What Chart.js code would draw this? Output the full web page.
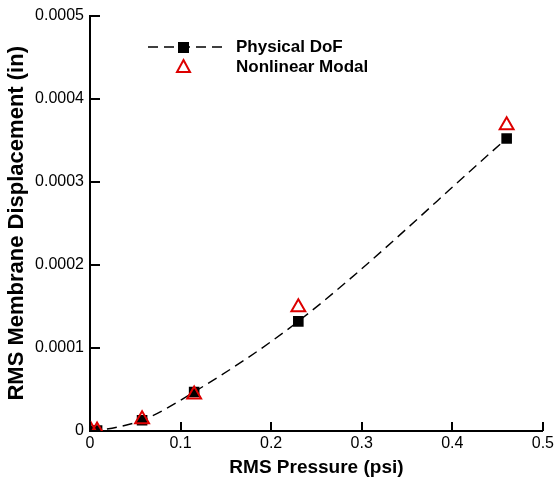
<!DOCTYPE html>
<html>
<head>
<meta charset="utf-8">
<script src="https://cdn.jsdelivr.net/npm/chart.js@4/dist/chart.umd.min.js"></script>
<style>
  html, body { margin: 0; padding: 0; background: #fff; }
  #wrap { width: 557px; height: 481px; }
</style>
</head>
<body>
<div id="wrap"><canvas id="myChart" width="557" height="481"></canvas></div>
<script>
// values
const pressure = [0.0012, 0.0078, 0.0575, 0.115, 0.23, 0.46];
const physicalDof = [0.0000002, 0.0000006, 0.000013, 0.000047, 0.000132, 0.000352];
const nonlinearModal = [0.0000002, 0.0000006, 0.000014, 0.000044, 0.000149, 0.000368];
const xTicks = [0, 0.1, 0.2, 0.3, 0.4, 0.5];
const yTicks = [0, 0.0001, 0.0002, 0.0003, 0.0004, 0.0005];

const fontFamily = 'Liberation Sans, Arial, Helvetica, sans-serif';
const modalRed = '#dd0000';

// inward tick marks (the plot only has ticks pointing into the data area)
const inwardTicks = {
    id: 'inwardTicks',
    afterDraw: (chart) => {
        const ctx = chart.ctx;
        const xAxis = chart.scales.x;
        const yAxis = chart.scales.y;
        ctx.save();
        ctx.strokeStyle = '#000';
        ctx.lineWidth = 2;
        xTicks.forEach(v => {
            const px = Math.round(xAxis.getPixelForValue(v));
            ctx.beginPath();
            ctx.moveTo(px, yAxis.bottom);
            ctx.lineTo(px, yAxis.bottom - 9);
            ctx.stroke();
        });
        yTicks.forEach(v => {
            const py = Math.round(yAxis.getPixelForValue(v));
            ctx.beginPath();
            ctx.moveTo(xAxis.left, py);
            ctx.lineTo(xAxis.left + 10, py);
            ctx.stroke();
        });
        ctx.restore();
    }
};

// legend sitting inside the plot, top left
const plotLegend = {
    id: 'plotLegend',
    afterDraw: (chart) => {
        const ctx = chart.ctx;
        ctx.save();
        // dashed line + square
        ctx.strokeStyle = '#000';
        ctx.lineWidth = 1.5;
        ctx.setLineDash([10, 6]);
        ctx.beginPath();
        ctx.moveTo(148, 47);
        ctx.lineTo(222, 47);
        ctx.stroke();
        ctx.setLineDash([]);
        ctx.fillStyle = '#000';
        ctx.fillRect(178, 42, 11, 11);
        // triangle
        ctx.strokeStyle = modalRed;
        ctx.lineWidth = 2;
        ctx.beginPath();
        ctx.moveTo(183.5, 60);
        ctx.lineTo(190, 72);
        ctx.lineTo(177, 72);
        ctx.closePath();
        ctx.stroke();
        // labels
        ctx.fillStyle = '#000';
        ctx.font = 'bold 17px ' + fontFamily;
        ctx.textBaseline = 'middle';
        ctx.textAlign = 'left';
        ctx.fillText('Physical DoF', 236, 47);
        ctx.fillText('Nonlinear Modal', 236, 67);
        ctx.restore();
    }
};

const ctx = document.getElementById('myChart').getContext('2d');
new Chart(ctx, {
    type: 'scatter',
    data: {
        datasets: [
            {
                label: 'Nonlinear Modal',
                data: pressure.map((p, i) => ({ x: p, y: nonlinearModal[i] })),
                showLine: false,
                pointStyle: 'triangle',
                pointRadius: 8,
                pointBorderWidth: 2,
                borderColor: modalRed,
                backgroundColor: 'rgba(0,0,0,0)',
                order: 0
            },
            {
                label: 'Physical DoF',
                data: pressure.map((p, i) => ({ x: p, y: physicalDof[i] })),
                showLine: true,
                cubicInterpolationMode: 'monotone',
                borderColor: '#000',
                borderWidth: 1.4,
                borderDash: [10, 6],
                pointStyle: 'rect',
                pointRadius: 7.5,
                pointBorderWidth: 0,
                pointBackgroundColor: '#000',
                backgroundColor: '#000',
                order: 1
            }
        ]
    },
    options: {
        responsive: false,
        animation: false,
        layout: { padding: { top: 11, right: 12, left: 0, bottom: 0 } },
        plugins: {
            legend: { display: false },
            tooltip: { enabled: false }
        },
        scales: {
            x: {
                type: 'linear',
                min: 0,
                max: 0.5,
                afterBuildTicks: (scale) => { scale.ticks = xTicks.map(v => ({ value: v })); },
                afterFit: (scale) => { scale.height = 50; },
                grid: { display: true, drawOnChartArea: false, drawTicks: false },
                border: { display: true, color: '#000', width: 2 },
                ticks: {
                    color: '#000',
                    padding: 3,
                    font: { family: fontFamily, size: 16 },
                    callback: (v) => v === 0 ? '0' : v.toFixed(1)
                },
                title: {
                    display: true,
                    text: 'RMS Pressure (psi)',
                    color: '#000',
                    font: { family: fontFamily, size: 19, weight: 'bold' },
                    padding: { top: 3, bottom: 2 }
                }
            },
            y: {
                type: 'linear',
                min: 0,
                max: 0.0005,
                afterBuildTicks: (scale) => { scale.ticks = yTicks.map(v => ({ value: v })); },
                afterFit: (scale) => { scale.width = 90; },
                grid: { display: true, drawOnChartArea: false, drawTicks: false },
                border: { display: true, color: '#000', width: 2 },
                ticks: {
                    color: '#000',
                    padding: 6,
                    font: { family: fontFamily, size: 16 },
                    callback: (v) => v === 0 ? '0' : v.toFixed(4)
                },
                title: {
                    display: true,
                    text: 'RMS Membrane Displacement (in)',
                    color: '#000',
                    font: { family: fontFamily, size: 22, weight: 'bold' },
                    padding: { top: 4, bottom: 0 }
                }
            }
        }
    },
    plugins: [inwardTicks, plotLegend]
});
</script>
</body>
</html>
